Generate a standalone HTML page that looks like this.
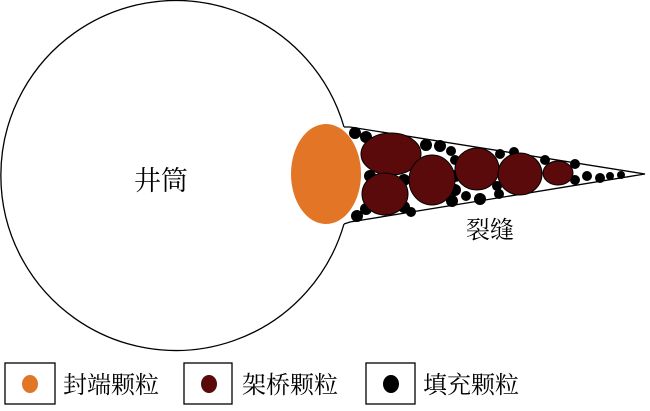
<!DOCTYPE html>
<html><head><meta charset="utf-8"><style>
body{margin:0;background:#fff;}
svg text{font-family:"Liberation Serif","Noto Serif CJK SC",serif;fill:#000;}
</style></head><body>
<svg width="650" height="406" viewBox="0 0 650 406" xmlns="http://www.w3.org/2000/svg">
<path d="M344,127 A175,175 0 1 0 344,224" fill="none" stroke="#000" stroke-width="1.3"/>
<path d="M344,127 L350,127 L645,174 L350,222 L344,224" fill="none" stroke="#000" stroke-width="1.3"/>
<ellipse cx="326" cy="174" rx="35" ry="50" fill="#e27526"/>
<g fill="#000">
<circle cx="355" cy="133" r="6"/><circle cx="366" cy="137" r="6"/><circle cx="357" cy="216" r="6"/><circle cx="366" cy="209" r="6"/>
<circle cx="370" cy="176" r="6"/><circle cx="404" cy="180" r="6"/><circle cx="404" cy="207" r="6"/><circle cx="411" cy="212" r="5"/>
<circle cx="426" cy="145" r="6"/><circle cx="440" cy="146" r="6"/><circle cx="451" cy="151" r="5"/><circle cx="455" cy="160" r="5"/>
<circle cx="455" cy="176" r="6"/><circle cx="455" cy="190" r="6"/><circle cx="452" cy="201" r="6"/><circle cx="466" cy="196" r="5"/>
<circle cx="480" cy="199" r="6"/><circle cx="497" cy="186" r="5"/><circle cx="499" cy="194" r="5"/><circle cx="500" cy="154" r="5"/>
<circle cx="514" cy="152" r="5"/><circle cx="545" cy="160" r="5"/><circle cx="575" cy="164" r="5"/><circle cx="575" cy="180" r="5"/>
<circle cx="587" cy="176" r="5"/><circle cx="600" cy="178" r="5"/><circle cx="610" cy="176" r="4"/><circle cx="621" cy="175" r="4"/>
</g>
<g fill="#5a0a0a" stroke="#000" stroke-width="1">
<ellipse cx="391" cy="154" rx="30" ry="21"/>
<ellipse cx="385" cy="194" rx="23" ry="21"/>
<ellipse cx="432" cy="180" rx="23" ry="25"/>
<ellipse cx="477" cy="169" rx="22" ry="21"/>
<ellipse cx="520" cy="174" rx="22" ry="21"/>
<ellipse cx="558" cy="173" rx="15" ry="12"/>
</g>
<text x="134" y="190" font-size="27">井筒</text>
<text x="466" y="238" font-size="24">裂缝</text>
<g fill="none" stroke="#000" stroke-width="1.3">
<rect x="5" y="363" width="50" height="41"/><rect x="184" y="363" width="48" height="41"/><rect x="366" y="363" width="49" height="41"/>
</g>
<ellipse cx="30" cy="384" rx="8" ry="9" fill="#e27526"/>
<ellipse cx="209" cy="384" rx="8" ry="9" fill="#5a0a0a"/>
<ellipse cx="391" cy="384" rx="8" ry="9" fill="#000"/>
<text x="63" y="393" font-size="24">封端颗粒</text>
<text x="242" y="393" font-size="24">架桥颗粒</text>
<text x="423" y="393" font-size="24">填充颗粒</text>
</svg>
</body></html>
